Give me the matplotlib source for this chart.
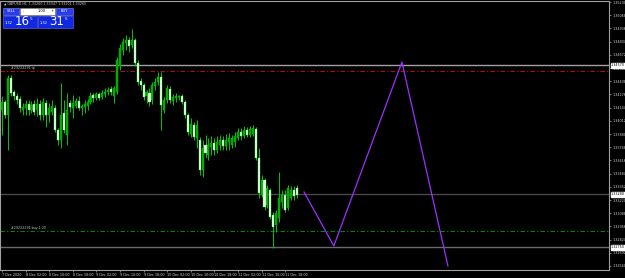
from matplotlib import pyplot as plt
from matplotlib.patches import Rectangle
import numpy as np

# GBPUSD H1 bars (open, close, high, low)
opens = [1.3412, 1.3420, 1.3407, 1.3444, 1.3430, 1.3426, 1.3423, 1.3412, 1.3414, 1.3418,
         1.3412, 1.3418, 1.3412, 1.3418, 1.3407, 1.3419, 1.3407, 1.3410, 1.3414, 1.3392,
         1.3382, 1.3409, 1.3387, 1.3419, 1.3414, 1.3416, 1.3421, 1.3414, 1.3415, 1.3416,
         1.3420, 1.3427, 1.3424, 1.3428, 1.3425, 1.3428, 1.3430, 1.3433, 1.3426, 1.3430,
         1.3456, 1.3472, 1.3479, 1.3482, 1.3477, 1.3482, 1.3459, 1.3441, 1.3437, 1.3426,
         1.3429, 1.3422, 1.3436, 1.3440, 1.3445, 1.3412, 1.3422, 1.3433, 1.3421, 1.3424,
         1.3425, 1.3426, 1.3420, 1.3407, 1.3388, 1.3397, 1.3384, 1.3382, 1.3352, 1.3377,
         1.3367, 1.3375, 1.3379, 1.3372, 1.3377, 1.3382, 1.3376, 1.3380, 1.3377, 1.3380,
         1.3384, 1.3390, 1.3386, 1.3392, 1.3387, 1.3388, 1.3393, 1.3364, 1.3327, 1.3342,
         1.3317, 1.3332, 1.3307, 1.3297, 1.3304, 1.3320, 1.3327, 1.3314, 1.3324, 1.3332,
         1.3334]
closes = [1.3420, 1.3407, 1.3444, 1.3429, 1.3426, 1.3422, 1.3414, 1.3415, 1.3418, 1.3412,
          1.3417, 1.3410, 1.3418, 1.3407, 1.3420, 1.3407, 1.3414, 1.3416, 1.3392, 1.3382,
          1.3407, 1.3392, 1.3412, 1.3415, 1.3419, 1.3421, 1.3414, 1.3416, 1.3418, 1.3420,
          1.3426, 1.3424, 1.3428, 1.3424, 1.3429, 1.3430, 1.3432, 1.3430, 1.3434, 1.3462,
          1.3474, 1.3480, 1.3482, 1.3476, 1.3482, 1.3459, 1.3440, 1.3437, 1.3425, 1.3430,
          1.3420, 1.3437, 1.3440, 1.3445, 1.3417, 1.3422, 1.3434, 1.3422, 1.3425, 1.3426,
          1.3426, 1.3420, 1.3407, 1.3390, 1.3398, 1.3385, 1.3397, 1.3352, 1.3374, 1.3369,
          1.3377, 1.3379, 1.3372, 1.3380, 1.3382, 1.3376, 1.3382, 1.3384, 1.3384, 1.3386,
          1.3390, 1.3386, 1.3392, 1.3387, 1.3393, 1.3394, 1.3364, 1.3329, 1.3342, 1.3315,
          1.3334, 1.3305, 1.3295, 1.3309, 1.3324, 1.3327, 1.3312, 1.3334, 1.3332, 1.3326,
          1.3327]
highs = [1.3426, 1.3422, 1.3447, 1.3447, 1.3432, 1.3429, 1.3426, 1.3419, 1.3422, 1.3422,
         1.3421, 1.3422, 1.3424, 1.3422, 1.3424, 1.3422, 1.3419, 1.3422, 1.3417, 1.3394,
         1.3439, 1.3422, 1.3429, 1.3422, 1.3427, 1.3424, 1.3426, 1.3418, 1.3422, 1.3423,
         1.3430, 1.3429, 1.3430, 1.3430, 1.3432, 1.3434, 1.3435, 1.3436, 1.3436, 1.3465,
         1.3478, 1.3484, 1.3487, 1.3485, 1.3493, 1.3484, 1.3462, 1.3444, 1.3439, 1.3432,
         1.3434, 1.3440, 1.3444, 1.3450, 1.3450, 1.3425, 1.3437, 1.3436, 1.3428, 1.3429,
         1.3427, 1.3428, 1.3422, 1.3409, 1.3404, 1.3400, 1.3402, 1.3385, 1.3382, 1.3387,
         1.3384, 1.3386, 1.3384, 1.3386, 1.3387, 1.3386, 1.3388, 1.3389, 1.3387, 1.3390,
         1.3394, 1.3394, 1.3396, 1.3395, 1.3396, 1.3397, 1.3395, 1.3374, 1.3347, 1.3344,
         1.3337, 1.3334, 1.3310, 1.3312, 1.3350, 1.3332, 1.3332, 1.3337, 1.3336, 1.3336,
         1.3337]
lows = [1.3387, 1.3404, 1.3372, 1.3426, 1.3422, 1.3418, 1.3410, 1.3407, 1.3407, 1.3407,
        1.3409, 1.3407, 1.3406, 1.3402, 1.3402, 1.3395, 1.3400, 1.3407, 1.3390, 1.3377,
        1.3374, 1.3389, 1.3377, 1.3410, 1.3404, 1.3414, 1.3412, 1.3407, 1.3409, 1.3412,
        1.3418, 1.3420, 1.3422, 1.3422, 1.3423, 1.3425, 1.3427, 1.3427, 1.3419, 1.3428,
        1.3452, 1.3467, 1.3472, 1.3470, 1.3474, 1.3456, 1.3437, 1.3432, 1.3422, 1.3419,
        1.3416, 1.3418, 1.3432, 1.3437, 1.3392, 1.3409, 1.3419, 1.3419, 1.3417, 1.3420,
        1.3422, 1.3418, 1.3404, 1.3387, 1.3385, 1.3382, 1.3374, 1.3347, 1.3345, 1.3364,
        1.3362, 1.3367, 1.3367, 1.3369, 1.3372, 1.3372, 1.3372, 1.3372, 1.3374, 1.3375,
        1.3382, 1.3382, 1.3384, 1.3385, 1.3385, 1.3386, 1.3362, 1.3324, 1.3325, 1.3312,
        1.3314, 1.3303, 1.3274, 1.3290, 1.3300, 1.3314, 1.3310, 1.3312, 1.3322, 1.3322,
        1.3324]

# horizontal levels
gray_levels = [1.3457, 1.3328, 1.3275]
tp_level = 1.3451
buy_level = 1.3291

# zigzag projection (bar index, price)
zz_bar = [102.4, 112.5, 135.6, 151.2]
zz_price = [1.3330, 1.3276, 1.3460, 1.3256]

xlabels = ["7 Dec 2020", "8 Dec 02:00", "8 Dec 10:00", "8 Dec 18:00", "9 Dec 02:00",
           "9 Dec 10:00", "9 Dec 18:00", "10 Dec 02:00", "10 Dec 10:00", "10 Dec 18:00",
           "11 Dec 02:00", "11 Dec 10:00", "11 Dec 18:00"]
ytick_vals = [1.35200 - k * 0.00132 for k in range(21)]

W, H = 625, 278
fig = plt.figure(figsize=(W / 100, H / 100), dpi=100, facecolor='black')
ax = fig.add_axes([0, 8 / H, 609 / W, 269 / H], facecolor='black')

o = np.array(opens); c = np.array(closes)
hi = np.array(highs); lo = np.array(lows)
idx = np.arange(len(o))
bull = c >= o

ax.vlines(idx, lo, hi, color='#00c800', linewidth=0.7, zorder=2)
bottom = np.minimum(o, c)
height = np.maximum(np.abs(c - o), 0.00008)
ax.bar(idx[bull], height[bull], bottom=bottom[bull], width=0.7,
       color='#00a800', edgecolor='#00c800', linewidth=0.3, zorder=3)
ax.bar(idx[~bull], height[~bull], bottom=bottom[~bull], width=0.7,
       color='#f0fff0', edgecolor='#50e050', linewidth=0.3, zorder=3)

line_cols = ['#a0a0a0', '#484848', '#6a6a6a']
for lev, col in zip(gray_levels, line_cols):
    ax.axhline(lev, color=col, linewidth=1.0, zorder=1)
ax.axhline(tp_level, color='#b01010', linewidth=0.8, linestyle=(0, (4, 2, 1, 2)), zorder=1)
ax.axhline(buy_level, color='#008a00', linewidth=0.8, linestyle=(0, (4, 2, 1, 2)), zorder=1)

ax.plot(zz_bar, zz_price, color='#9b30ff', linewidth=0.9, zorder=4)

ax.text(3, tp_level + 0.00005, "#29222291 tp", color='#c8c8c8', fontsize=2.3,
        va='bottom', ha='left')
ax.text(3, buy_level + 0.00005, "#29222291 buy 1.00", color='#c8c8c8', fontsize=2.3,
        va='bottom', ha='left')

ax.set_xlim(-0.68, 205.8)
ax.set_ylim(1.3252, 1.3521)

for s in ax.spines.values():
    s.set_color('#a0a0a0')
    s.set_linewidth(0.8)

ax.yaxis.tick_right()
ax.set_yticks(ytick_vals)
ax.set_yticklabels(["%.5f" % v for v in ytick_vals])
ax.set_xticks(np.arange(0, 97, 8))
ax.set_xticklabels(xlabels)
ax.tick_params(axis='both', colors='#a0a0a0', labelcolor='#d0d0d0', labelsize=2.4,
               length=1.5, width=0.5, pad=0.8)
for t in ax.get_xticklabels():
    t.set_ha('left')

# highlighted prices on the scale
for lev in gray_levels:
    ax.annotate("%.5f" % lev, xy=(1.0, lev), xycoords=('axes fraction', 'data'),
                xytext=(1.5, 0), textcoords='offset points', fontsize=2.4, color='black',
                va='center', ha='left',
                bbox=dict(boxstyle='square,pad=0.15', fc='white', ec='white'))

# header text
fig.text(4 / W, 1 - 4 / H, "\u25b2 GBPUSD,H1  1.33260 1.33347 1.33201 1.33265",
         color='#d0d0d0', fontsize=2.3, va='center', ha='left')

# one-click trading panel
def rect(x, y, w, h, fc, ec):
    fig.add_artist(Rectangle((x / W, 1 - (y + h) / H), w / W, h / H,
                             transform=fig.transFigure, fc=fc, ec=ec, lw=0.4))

def ftext(x, y, s, size, col='white', ha='center', weight='normal'):
    fig.text(x / W, 1 - y / H, s, fontsize=size, color=col, ha=ha, va='center',
             fontweight=weight)

rect(3, 7.5, 16, 7, '#2a3cf0', '#8090ff')
ftext(11, 11, "SELL", 2.6)
rect(20, 7.5, 35, 7, 'white', '#909090')
ftext(23, 11, "-", 2.6, col='black')
ftext(42, 11, "1.00", 2.6, col='black')
ftext(52, 11, "+", 2.6, col='black')
rect(56, 7.5, 17, 7, '#2a3cf0', '#8090ff')
ftext(64.5, 11, "BUY", 2.6)
rect(3, 15.5, 34, 12.5, '#1028e0', '#6070ff')
rect(38, 15.5, 35, 12.5, '#1028e0', '#6070ff')
ftext(9, 23, "1.32", 2.6)
ftext(22, 21.5, "16", 8.5)
ftext(31, 18.5, "5", 3.0)
ftext(44, 23, "1.32", 2.6)
ftext(57, 21.5, "31", 8.5)
ftext(66, 18.5, "5", 3.0)

fig.savefig("out.png", dpi=100, facecolor='black')
